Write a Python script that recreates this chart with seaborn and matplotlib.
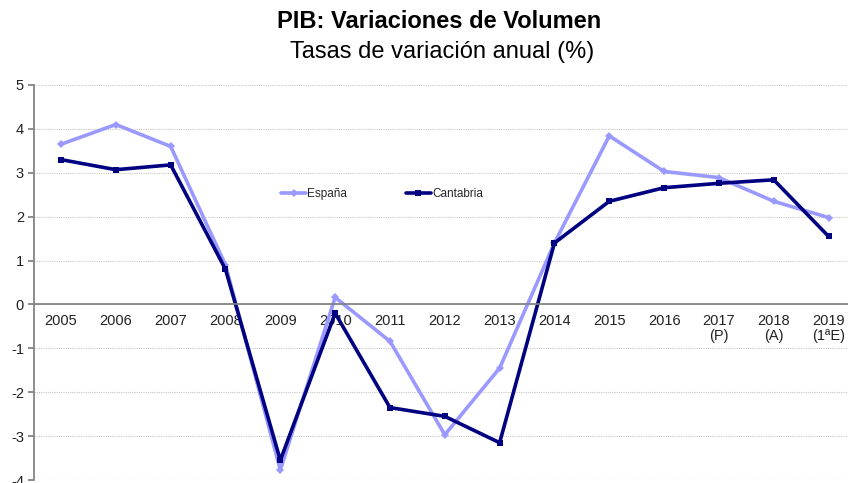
import matplotlib
matplotlib.use("Agg")
import matplotlib.pyplot as plt
import seaborn as sns
import pandas as pd
import numpy as np
from matplotlib.ticker import FixedLocator

years = ["2005", "2006", "2007", "2008", "2009", "2010", "2011", "2012",
         "2013", "2014", "2015", "2016", "2017", "2018", "2019"]
tick_labels = ["2005", "2006", "2007", "2008", "2009", "2010", "2011", "2012",
               "2013", "2014", "2015", "2016", "2017\n(P)", "2018\n(A)", "2019\n(1ªE)"]
espana = [3.65, 4.1, 3.6, 0.9, -3.77, 0.16, -0.84, -2.97, -1.45, 1.4,
          3.84, 3.03, 2.89, 2.35, 1.98]
cantabria = [3.3, 3.07, 3.18, 0.8, -3.55, -0.2, -2.35, -2.55, -3.15, 1.4,
             2.35, 2.66, 2.76, 2.84, 1.55]

sns.set_theme(style="white")
plt.rcParams['font.family'] = ['Liberation Sans', 'DejaVu Sans']

df = pd.DataFrame({
    "pos": list(range(len(years))) * 2,
    "valor": espana + cantabria,
    "serie": ["España"] * len(years) + ["Cantabria"] * len(years),
})

fig = plt.figure(figsize=(8.48, 4.83), dpi=100)
ax = fig.add_axes([33.6 / 848, 3 / 483, (856 - 33.6) / 848, (480 - 85) / 483])

palette = {"España": "#9999FF", "Cantabria": "#000080"}
sns.lineplot(data=df, x="pos", y="valor", hue="serie", style="serie",
             markers={"España": "D", "Cantabria": "s"}, dashes=False,
             palette=palette, linewidth=2.6, markersize=4.5,
             markeredgewidth=0, ax=ax, legend=True)

ax.set_xlim(-0.5, len(years) - 0.5)
ax.set_ylim(-4, 5)
ax.set_yticks(range(-4, 6))
ax.set_yticklabels([str(v) for v in range(-4, 6)], fontsize=10.5, color="#222222")
ax.yaxis.grid(True, linestyle=(0, (1, 1)), color="#c8c8c8", linewidth=0.8)
ax.xaxis.grid(False)

ax.spines['bottom'].set_position(('data', 0))
for s in ['top', 'right']:
    ax.spines[s].set_visible(False)
ax.spines['left'].set_color("#808080")
ax.spines['bottom'].set_color("#808080")

ax.set_xticks(range(len(years)))
ax.set_xticklabels(tick_labels, fontsize=10.5, color="#222222", linespacing=1.1)
ax.tick_params(axis='x', which='major', length=0, pad=7)
ax.xaxis.set_minor_locator(FixedLocator(np.arange(-0.5, len(years), 1.0)))
ax.tick_params(axis='x', which='minor', length=4, color="#808080", direction='out')
ax.tick_params(axis='y', which='major', length=4, color="#808080", direction='out', left=True, pad=3)
ax.set_xlabel("")
ax.set_ylabel("")

handles, labels = ax.get_legend_handles_labels()
ax.get_legend().remove()
fig.legend(handles, labels, loc='center', bbox_to_anchor=(382 / 848, 1 - 194 / 483),
           ncol=2, frameon=False, fontsize=8.5, columnspacing=5.0,
           handlelength=2.1, handletextpad=0.1)

fig.text(439 / 848, 1 - 21 / 483, "PIB: Variaciones de Volumen", ha='center', va='center',
         fontsize=17, fontweight='bold', color="#000000")
fig.text(442 / 848, 1 - 52 / 483, "Tasas de variación anual (%)", ha='center', va='center',
         fontsize=17, color="#000000")

fig.savefig("out.png", dpi=100)
